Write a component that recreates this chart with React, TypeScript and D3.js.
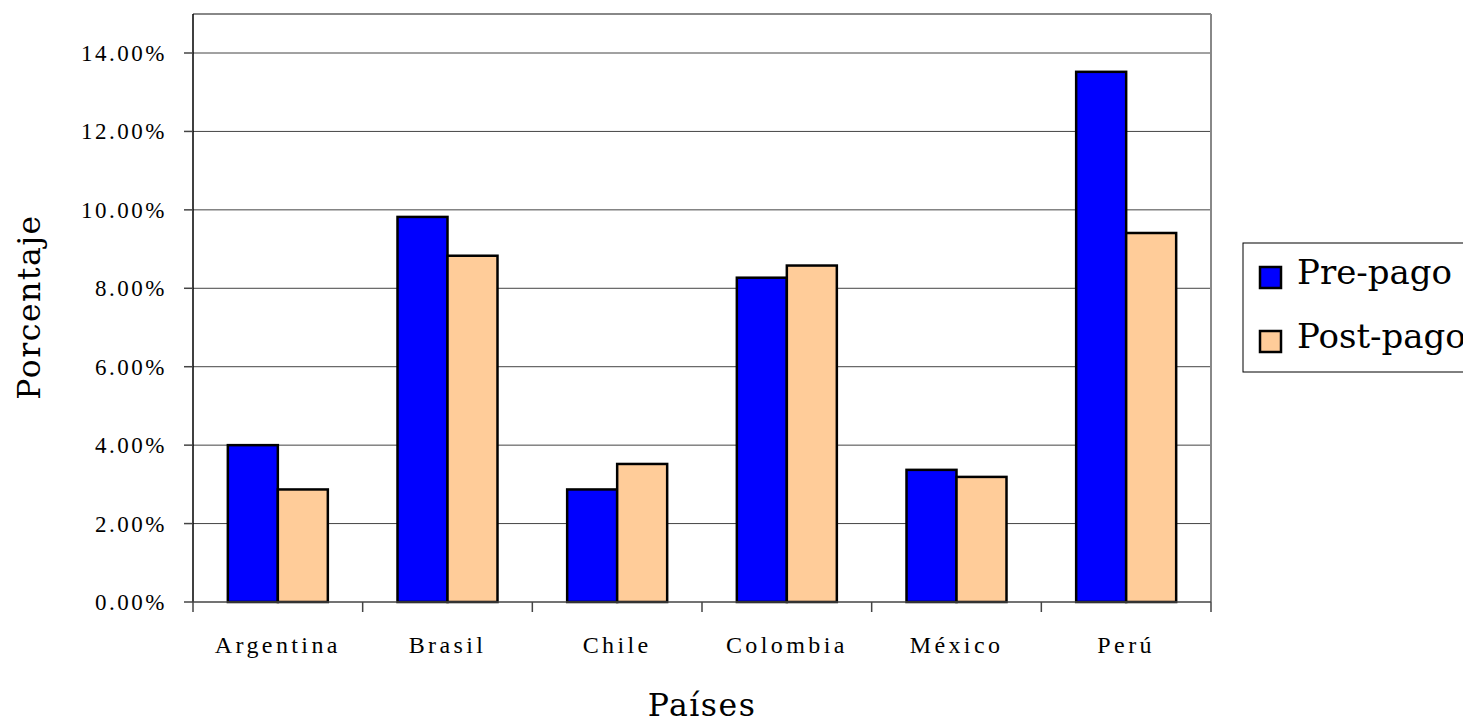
import React from "react";
import * as d3 from "d3";

const categories = ["Argentina", "Brasil", "Chile", "Colombia", "México", "Perú"];
const seriesNames = ["Pre-pago", "Post-pago"];
const prePago = [4.0, 9.82, 2.87, 8.27, 3.37, 13.52];
const postPago = [2.87, 8.83, 3.52, 8.58, 3.19, 9.41];
const yTicks = [0, 2, 4, 6, 8, 10, 12, 14];
const colors = ["#0000FF", "#FFCC99"];

export default function App() {
  const W = 1463, H = 721;
  const left = 193, right = 1211, top = 14, bottom = 602;
  const x = d3.scaleBand<string>().domain(categories).range([left, right]).paddingInner(0).paddingOuter(0);
  const y = d3.scaleLinear().domain([0, 14]).range([bottom, 53]);
  const inner = d3.scaleBand<string>().domain(seriesNames).range([0, 100]);
  const off = (x.bandwidth() - 100) / 2;
  const series = [prePago, postPago];
  const font = "'Liberation Serif', 'Times New Roman', serif";
  const font2 = "'DejaVu Serif', serif";
  return (
    <svg width={W} height={H} style={{ position: "absolute", left: 0, top: 0, background: "#fff" }}>
      <rect x={0} y={0} width={W} height={H} fill="#fff" />
      {yTicks.slice(1).map((t) => (
        <line key={t} x1={left} x2={right} y1={y(t)} y2={y(t)} stroke="#444" strokeWidth={1} />
      ))}
      <line x1={left} x2={right} y1={top} y2={top} stroke="#888" strokeWidth={2} />
      <line x1={right} x2={right} y1={top} y2={bottom} stroke="#888" strokeWidth={2} />
      {categories.map((c, i) =>
        series.map((s, k) => (
          <rect
            key={c + k}
            x={(x(c) as number) + off + (inner(seriesNames[k]) as number)}
            y={y(s[i])}
            width={inner.bandwidth()}
            height={bottom - y(s[i])}
            fill={colors[k]}
            stroke="#000"
            strokeWidth={2.5}
          />
        ))
      )}
      <line x1={left} x2={left} y1={top} y2={bottom} stroke="#000" strokeWidth={1.5} />
      <line x1={left} x2={right} y1={bottom} y2={bottom} stroke="#444" strokeWidth={1.5} />
      {yTicks.map((t) => (
        <g key={t}>
          <line x1={184} x2={left} y1={y(t)} y2={y(t)} stroke="#444" strokeWidth={1.5} />
          <text x={167} y={y(t)} dy="0.35em" textAnchor="end" fontFamily={font} fontSize={23} letterSpacing={2.5} fill="#000">
            {t.toFixed(2) + "%"}
          </text>
        </g>
      ))}
      {[...categories.map((c) => x(c) as number), right].map((v, i) => (
        <line key={i} x1={v} x2={v} y1={bottom} y2={612} stroke="#444" strokeWidth={1.5} />
      ))}
      {categories.map((c) => (
        <text key={c} x={(x(c) as number) + x.bandwidth() / 2} y={653} textAnchor="middle" fontFamily={font} fontSize={24} letterSpacing={3.4} fill="#000">
          {c}
        </text>
      ))}
      <text x={702} y={716} textAnchor="middle" fontFamily={font2} fontSize={31.5} letterSpacing={1.5} fill="#000">Países</text>
      <text transform={`translate(40,307) rotate(-90)`} textAnchor="middle" fontFamily={font2} fontSize={31.5} letterSpacing={1.5} fill="#000">Porcentaje</text>
      <rect x={1243} y={243} width={240} height={129} fill="#fff" stroke="#000" strokeWidth={1} />
      {seriesNames.map((n, k) => (
        <g key={n}>
          <rect x={1260} y={267 + k * 64} width={21} height={21} fill={colors[k]} stroke="#000" strokeWidth={2.5} />
          <text x={1297} y={284 + k * 64} fontFamily={font2} fontSize={34} fill="#000">{n}</text>
        </g>
      ))}
    </svg>
  );
}
